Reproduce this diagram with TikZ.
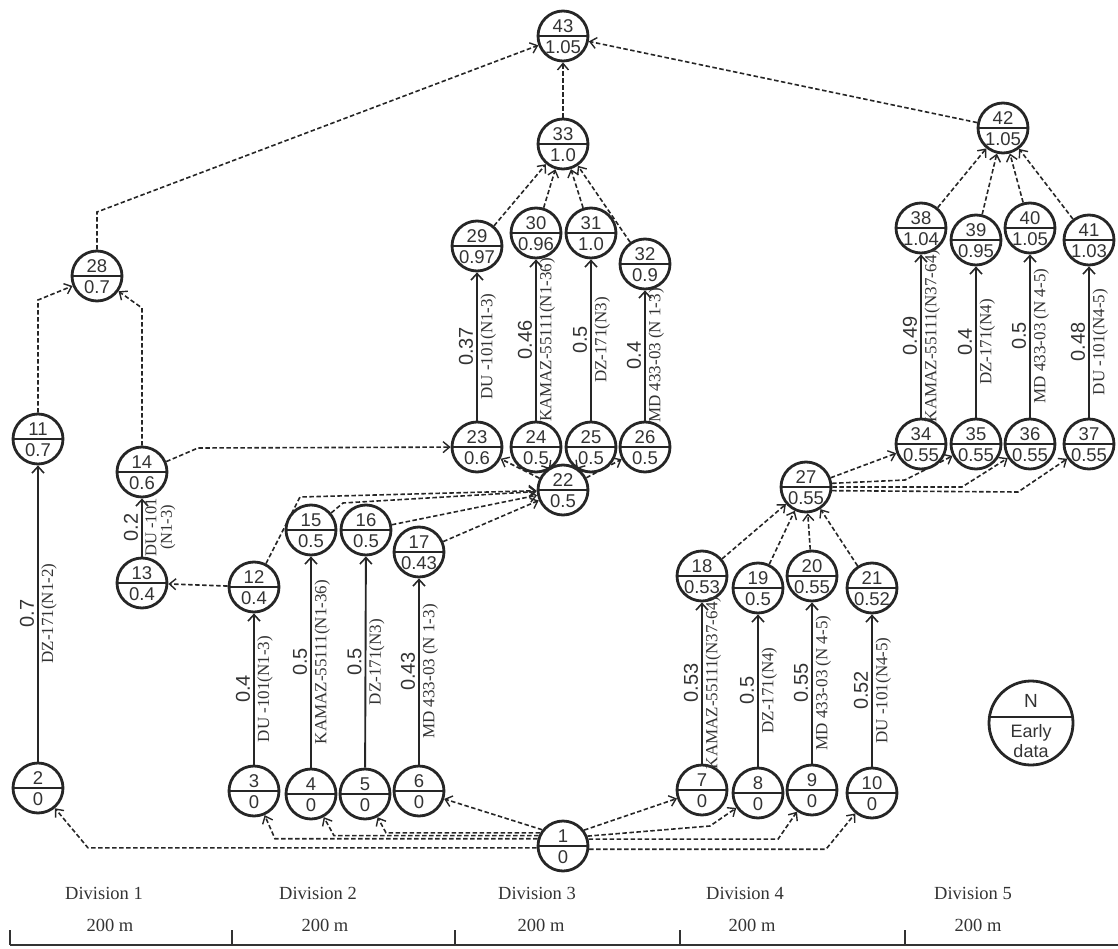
\documentclass[tikz,border=0pt]{standalone}
\usepackage{fontspec}
\setmainfont{Liberation Serif}
\newfontfamily\ar{Liberation Sans}
\usetikzlibrary{arrows.meta}
\newcommand\evnode[4]{%
  \node[ev] (#1) at (#2) {};
  \draw[line width=2.2pt,black!85] (#1.west) -- (#1.east);
  \node[num] at ([yshift=9.5pt]#1.center) {#3};
  \node[num] at ([yshift=-11.5pt]#1.center) {#4};}
\newcommand\actedge[4]{%
  \draw[act] (#1) -- node[enum,sloped,above,pos=0.5]{#3} node[mach,sloped,below,pos=0.5]{#4} (#2);}
\begin{document}
\begin{tikzpicture}[x=1pt,y=-1pt,
  ev/.style={circle,draw=black!85,line width=2.8pt,minimum size=50pt,inner sep=0pt},
  act/.style={draw=black!85,line width=1.9pt,-{Straight Barb[length=6.5pt,width=12pt,line width=1.6pt]}},
  dum/.style={draw=black!85,line width=1.6pt,dash pattern=on 4.5pt off 2.5pt,-{Straight Barb[length=6.5pt,width=11pt,line width=1.4pt]}},
  num/.style={font=\ar\fontsize{18.5}{18.5}\selectfont,text=black!80,inner sep=2.5pt},
  enum/.style={font=\ar\fontsize{20}{20}\selectfont,text=black!80,inner sep=3pt},
  mach/.style={font=\fontsize{17}{17}\selectfont,text=black!80,inner sep=2.5pt},
  lbl/.style={font=\fontsize{18.5}{19}\selectfont,text=black!80}]
\useasboundingbox (0,0) rectangle (1118,949);
% events
\evnode{n1}{563,846}{1}{0}
\evnode{n2}{38,788}{2}{0}
\evnode{n3}{254,791}{3}{0}
\evnode{n4}{311,794}{4}{0}
\evnode{n5}{365,794}{5}{0}
\evnode{n6}{419,791}{6}{0}
\evnode{n7}{702,790}{7}{0}
\evnode{n8}{758,793}{8}{0}
\evnode{n9}{812,790}{9}{0}
\evnode{n10}{872,793}{10}{0}
\evnode{n11}{38,439}{11}{0.7}
\evnode{n12}{254,587}{12}{0.4}
\evnode{n13}{142,583}{13}{0.4}
\evnode{n14}{142,472}{14}{0.6}
\evnode{n15}{311,530}{15}{0.5}
\evnode{n16}{366,530}{16}{0.5}
\evnode{n17}{419,552}{17}{0.43}
\evnode{n18}{702,576}{18}{0.53}
\evnode{n19}{758,588}{19}{0.5}
\evnode{n20}{812,576}{20}{0.55}
\evnode{n21}{872,588}{21}{0.52}
\evnode{n22}{563,490}{22}{0.5}
\evnode{n23}{477,447}{23}{0.6}
\evnode{n24}{536,447}{24}{0.5}
\evnode{n25}{591,447}{25}{0.5}
\evnode{n26}{645,447}{26}{0.5}
\evnode{n27}{806,487}{27}{0.55}
\evnode{n28}{97,276}{28}{0.7}
\evnode{n29}{477,246}{29}{0.97}
\evnode{n30}{536,233}{30}{0.96}
\evnode{n31}{591,233}{31}{1.0}
\evnode{n32}{645,264}{32}{0.9}
\evnode{n33}{563,144}{33}{1.0}
\evnode{n34}{921,444}{34}{0.55}
\evnode{n35}{976,444}{35}{0.55}
\evnode{n36}{1030,444}{36}{0.55}
\evnode{n37}{1089,444}{37}{0.55}
\evnode{n38}{921,228}{38}{1.04}
\evnode{n39}{976,240}{39}{0.95}
\evnode{n40}{1030,228}{40}{1.05}
\evnode{n41}{1089,240}{41}{1.03}
\evnode{n42}{1003,128}{42}{1.05}
\evnode{n43}{563,36}{43}{1.05}
% activities
\actedge{n2}{n11}{0.7}{DZ-171(N1-2)}
\draw[act] (n13) -- node[enum,sloped,above]{0.2} node[mach,sloped,below,align=center,font=\fontsize{16.5}{15.5}\selectfont]{DU -101\\(N1-3)} (n14);
\actedge{n3}{n12}{0.4}{DU -101(N1-3)}
\actedge{n4}{n15}{0.5}{KAMAZ-55111(N1-36)}
\actedge{n5}{n16}{0.5}{DZ-171(N3)}
\actedge{n6}{n17}{0.43}{MD 433-03 (N 1-3)}
\actedge{n7}{n18}{0.53}{KAMAZ-55111(N37-64)}
\actedge{n8}{n19}{0.5}{DZ-171(N4)}
\actedge{n9}{n20}{0.55}{MD 433-03 (N 4-5)}
\actedge{n10}{n21}{0.52}{DU -101(N4-5)}
\actedge{n23}{n29}{0.37}{DU -101(N1-3)}
\actedge{n24}{n30}{0.46}{KAMAZ-55111(N1-36)}
\actedge{n25}{n31}{0.5}{DZ-171(N3)}
\actedge{n26}{n32}{0.4}{MD 433-03 (N 1-3)}
\actedge{n34}{n38}{0.49}{KAMAZ-55111(N37-64)}
\actedge{n35}{n39}{0.4}{DZ-171(N4)}
\actedge{n36}{n40}{0.5}{MD 433-03 (N 4-5)}
\actedge{n37}{n41}{0.48}{DU -101(N4-5)}
% dummies from 1
\draw[dum] (n1.184) -- (88,0 |- n1.184) -- (n2);
\draw[dum] (n1.164) -- (275,0 |- n1.164) -- (n3);
\draw[dum] (n1.157) -- (334,0 |- n1.157) -- (n4);
\draw[dum] (n1.150) -- (386,0 |- n1.150) -- (n5);
\draw[dum] (n1.142) -- (n6);
\draw[dum] (n1.37) -- (n7);
\draw[dum] (n1.22) -- (710,826) -- (n8);
\draw[dum] (n1.15) -- (778,0 |- n1.15) -- (n9);
\draw[dum] (n1.-7) -- (826,0 |- n1.-7) -- (n10);
% other dummies
\draw[dum] (n12) -- (n13);
\draw[dum] (n12) -- (300,497) -- (n22);
\draw[dum] (n15) -- (343,503) -- (n22);
\draw[dum] (n16) -- (n22);
\draw[dum] (n17) -- (n22);
\draw[dum] (n14) -- (198,448) -- (n23);
\draw[dum] (n14) -- (142,308) -- (n28);
\draw[dum] (n11) -- (38,300) -- (n28);
\draw[dum] (n28) -- (97,212) -- (n43);
\foreach \t in {23,24,25,26} \draw[dum] (n22) -- (n\t);
\foreach \s in {29,30,31,32} \draw[dum] (n\s) -- (n33);
\draw[dum] (n33) -- (n43);
\draw[dum] (n42) -- (n43);
\foreach \s in {18,19,20,21} \draw[dum] (n\s) -- (n27);
\draw[dum] (n27) -- (n34);
\draw[dum] (n27.8) -- (905,480) -- (n35);
\draw[dum] (n27.0) -- (962,487) -- (n36);
\draw[dum] (n27.-8) -- (1018,492) -- (n37);
\foreach \s in {38,39,40,41} \draw[dum] (n\s) -- (n42);
% legend
\node[ev,minimum size=84pt] (leg) at (1031,723) {};
\draw[line width=2.2pt,black!85] ([yshift=6pt]leg.west) -- ([yshift=6pt]leg.east);
\node[num,font=\ar\fontsize{19}{19}\selectfont] (legN) at (1031,701) {N};
\node[num,align=center,font=\ar\fontsize{18}{19.5}\selectfont] (legE) at (1031,741) {Early\\data};
% divisions
\foreach \x/\d in {104/1,318/2,537/3,745/4,973/5} \node[lbl] (div\d) at (\x,893) {Division \d};
\foreach \x/\d in {110/1,325/2,541/3,752/4,978/5} \node[lbl] (len\d) at (\x,925) {200 m};
\draw[line width=1.5pt,black!80] (10,945) -- (1118,945);
\foreach \x in {10,232,455,680,905} \draw[line width=1.5pt,black!80] (\x,930) -- (\x,945);
\end{tikzpicture}
\end{document}
